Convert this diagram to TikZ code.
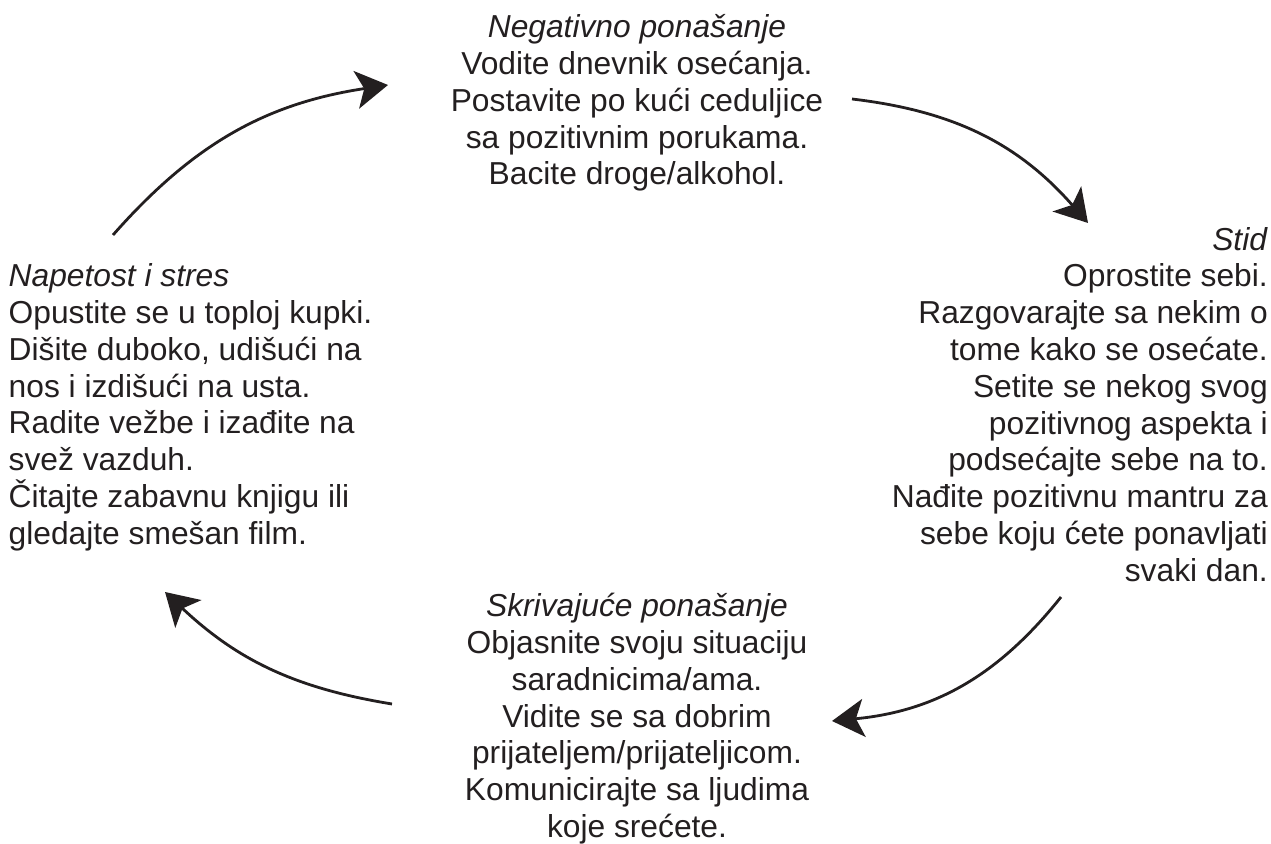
\documentclass[tikz,border=0pt]{standalone}
\usepackage{fontspec}
\setmainfont{Liberation Sans}
\usetikzlibrary{arrows.meta}
\definecolor{ink}{RGB}{35,31,32}
\newcommand\blockfont{\fontsize{31.75pt}{36.8pt}\selectfont}
\newcommand\firststrut{\rule{0pt}{26pt}}
\begin{document}
\begin{tikzpicture}[x=1pt,y=1pt,
  txt/.style={inner sep=0pt, font=\blockfont, text=ink},
  cyc/.style={draw=ink, line width=2.8pt, -{Stealth[length=32pt,width=38pt,inset=8pt]}}]
\useasboundingbox (0,0) rectangle (1271,843);
\node[txt, align=center, anchor=north] (neg) at (637,831.5)
  {\firststrut\textit{Negativno ponašanje}\\Vodite dnevnik osećanja.\\Postavite po kući ceduljice\\sa pozitivnim porukama.\\Bacite droge/alkohol.};
\node[txt, align=right, anchor=north east] (stid) at (1268,619)
  {\firststrut\textit{Stid}\\Oprostite sebi.\\Razgovarajte sa nekim o\\tome kako se osećate.\\Setite se nekog svog\\pozitivnog aspekta i\\podsećajte sebe na to.\\Nađite pozitivnu mantru za\\sebe koju ćete ponavljati\\svaki dan.};
\node[txt, align=center, anchor=north] (skr) at (637,252.5)
  {\firststrut\textit{Skrivajuće ponašanje}\\Objasnite svoju situaciju\\saradnicima/ama.\\Vidite se sa dobrim\\prijateljem/prijateljicom.\\Komunicirajte sa ljudima\\koje srećete.};
\node[txt, align=left, anchor=north west] (nap) at (8.5,582.5)
  {\firststrut\textit{Napetost i stres}\\Opustite se u toploj kupki.\\Dišite duboko, udišući na\\nos i izdišući na usta.\\Radite vežbe i izađite na\\svež vazduh.\\Čitajte zabavnu knjigu ili\\gledajte smešan film.};
\coordinate (a1s) at (113,608);
\coordinate (a1e) at (388,758);
\coordinate (a2s) at (852,744);
\coordinate (a2e) at (1088,620);
\coordinate (a3s) at (1061,246);
\coordinate (a3e) at (832,122);
\coordinate (a4s) at (392,139);
\coordinate (a4e) at (165,251);
\draw[cyc] (a1s) to[bend left=20] (a1e);
\draw[cyc] (a2s) to[bend left=21] (a2e);
\draw[cyc] (a3s) to[bend left=23] (a3e);
\draw[cyc] (a4s) to[bend left=17] (a4e);
\end{tikzpicture}
\end{document}
